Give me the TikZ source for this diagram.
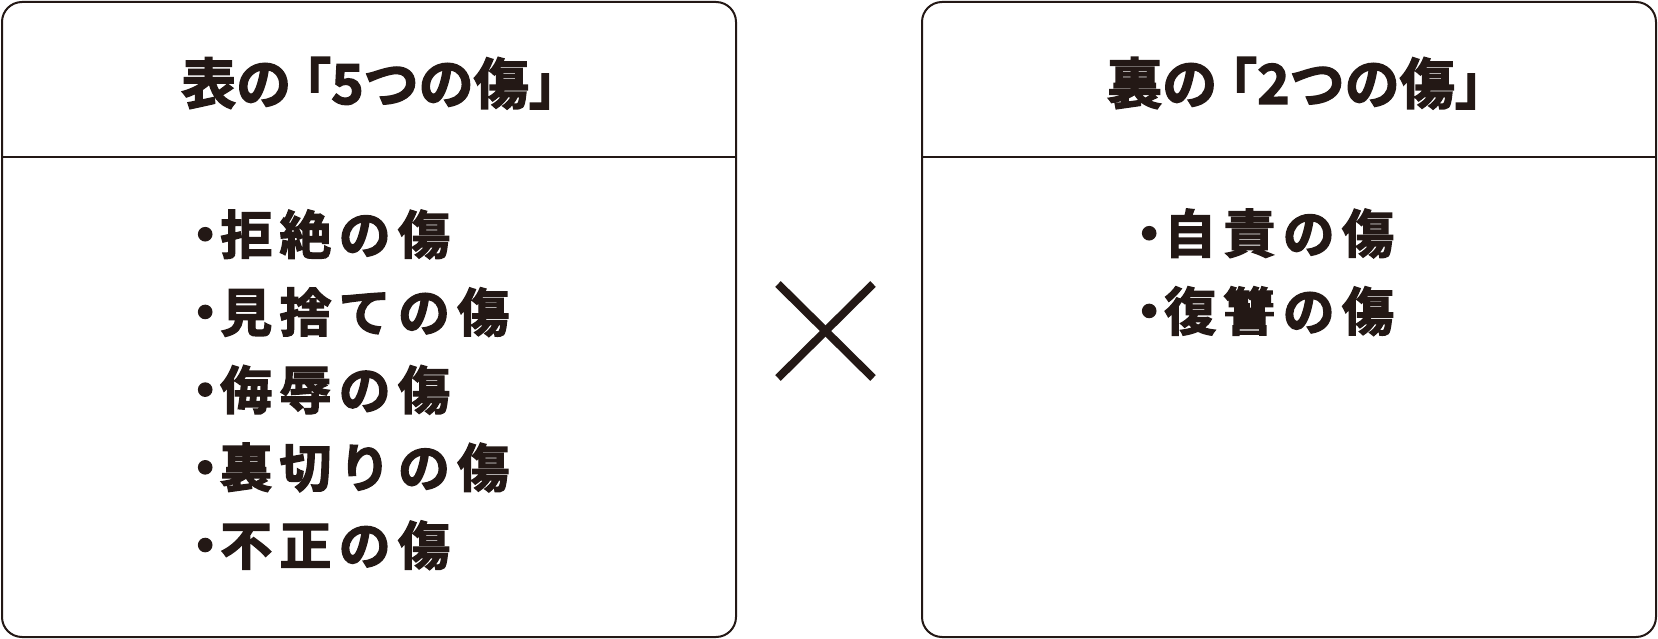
\documentclass[tikz,border=0pt]{standalone}
\usepackage{fontspec}
\newfontfamily\jptitle{Noto Sans CJK JP Bold}[FakeBold=2.5]
\newfontfamily\jpitem{Noto Sans CJK JP Bold}[LetterSpace=14,FakeBold=2.5]
\definecolor{ink}{HTML}{231815}
\tikzset{
  panel/.style={draw=ink, line width=2pt, rounded corners=20pt, minimum width=734pt, minimum height=635pt, inner sep=0pt},
  divider/.style={draw=ink, line width=2pt},
  titletext/.style={text=ink, inner sep=0pt, anchor=base west, font=\jptitle\fontsize{55}{60}\selectfont},
  itemtext/.style={text=ink, inner sep=0pt, anchor=base west, font=\jpitem\fontsize{52}{60}\selectfont},
  cross/.style={draw=ink, line width=8pt, line cap=butt}
}
\begin{document}
\begin{tikzpicture}[x=1pt, y=-1pt]
\useasboundingbox (0,0) rectangle (1658,639);
% panels
\node[panel] (L) at (369,319.5) {};
\node[panel] (R) at (1289,319.5) {};
\coordinate (ly) at (0,157);
\draw[divider] (L.west |- ly) -- (L.east |- ly);
\draw[divider] (R.west |- ly) -- (R.east |- ly);
% titles
\node[titletext] (Lt) at (181,104) {表の\kern-15pt「5つの傷」};
\node[titletext] (Rt) at (1107,104) {裏の\kern-15pt「2つの傷」};
% left items
\node[itemtext] (l1) at (179,254) {・\kern-11pt 拒絶の傷};
\node[itemtext] (l2) at (179,331.7) {・\kern-11pt 見捨ての傷};
\node[itemtext] (l3) at (179,409.4) {・\kern-11pt 侮辱の傷};
\node[itemtext] (l4) at (179,487.1) {・\kern-11pt 裏切りの傷};
\node[itemtext] (l5) at (179,564.8) {・\kern-11pt 不正の傷};
% right items
\node[itemtext] (r1) at (1123,253) {・\kern-11pt 自責の傷};
\node[itemtext] (r2) at (1123,330.7) {・\kern-11pt 復讐の傷};
% cross
\coordinate (xa) at (778,284);
\coordinate (xb) at (873,378);
\coordinate (xc) at (873,284);
\coordinate (xd) at (778,378);
\draw[cross] (xa) -- (xb);
\draw[cross] (xc) -- (xd);
\end{tikzpicture}
\end{document}
